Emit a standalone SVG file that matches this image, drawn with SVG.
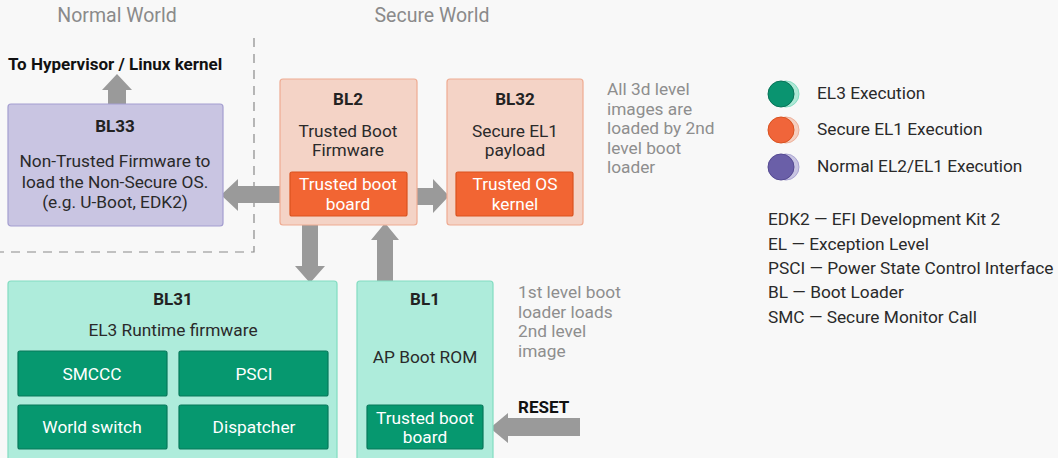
<svg xmlns="http://www.w3.org/2000/svg" width="1058" height="458" viewBox="0 0 1058 458">
  <style>
    text { font-family: Roboto, "Liberation Sans", sans-serif; }
    .world { font-size: 19.5px; fill: #8a8a8a; text-anchor: middle; }
    .note { font-size: 17.3px; fill: #8e8e8e; }
    .title { font-size: 17px; font-weight: bold; fill: #222; text-anchor: middle; }
    .body { font-size: 17.3px; fill: #2a2a2a; text-anchor: middle; }
    .inner { font-size: 17.3px; fill: #ffffff; text-anchor: middle; }
    .legend { font-size: 17.3px; fill: #2a2a2a; }
    .normal { fill: #c9c5e2; stroke: #a49ed0; stroke-width: 1.2; }
    .secure { fill: #f4d3c6; stroke: #eeab92; stroke-width: 1.2; }
    .el3 { fill: #aeecdb; stroke: #82dcc1; stroke-width: 1.2; }
    .orange { fill: #f26533; stroke: #d9521f; stroke-width: 1.2; }
    .green { fill: #06986f; stroke: #06785a; stroke-width: 1.2; }
    .arrow { fill: #9a9a9a; }
  </style>

  <rect width="1058" height="458" fill="#f8f8f8"/>

  <!-- world labels and boundary -->
  <text class="world" x="117" y="22">Normal World</text>
  <text class="world" x="432" y="22">Secure World</text>
  <path d="M254 38 V252 H0" fill="none" stroke="#8a8a8a" stroke-width="1.2" stroke-dasharray="9 7"/>

  <text x="8" y="70" font-size="17" font-weight="bold" fill="#111">To Hypervisor / Linux kernel</text>

  <!-- connectors -->
  <g id="connectors">
    <polygon class="arrow" points="108,104 108,90 102,90 117,74 132,90 126,90 126,104"/>
    <polygon class="arrow" points="280,186 238,186 238,179 221,195 238,211 238,203 280,203"/>
    <polygon class="arrow" points="417,188 433,188 433,179 449,196 433,213 433,205 417,205"/>
    <polygon class="arrow" points="302,225 318,225 318,266 325,266 310,283 295,266 302,266"/>
    <polygon class="arrow" points="377,281 393,281 393,240 399,240 385,223 371,240 377,240"/>
    <polygon class="arrow" points="580,418 508,418 508,413 490,428 508,443 508,436 580,436"/>
  </g>

  <!-- BL33 -->
  <g id="bl33">
    <rect class="normal" x="8" y="104" width="215" height="122" rx="3"/>
    <text class="title" x="115" y="132">BL33</text>
    <text class="body" x="115" y="167">Non-Trusted Firmware to</text>
    <text class="body" x="115" y="188">load the Non-Secure OS.</text>
    <text class="body" x="115" y="208">(e.g. U-Boot, EDK2)</text>
  </g>

  <!-- BL2 -->
  <g id="bl2">
    <rect class="secure" x="280" y="79" width="137" height="146" rx="3"/>
    <text class="title" x="348" y="105">BL2</text>
    <text class="body" x="348" y="137">Trusted Boot</text>
    <text class="body" x="348" y="156">Firmware</text>
    <rect class="orange" x="290" y="172" width="117" height="44" rx="2"/>
    <text class="inner" x="348" y="190">Trusted boot</text>
    <text class="inner" x="348" y="210">board</text>
  </g>

  <!-- BL32 -->
  <g id="bl32">
    <rect class="secure" x="447" y="79" width="136" height="146" rx="3"/>
    <text class="title" x="515" y="105">BL32</text>
    <text class="body" x="515" y="137">Secure EL1</text>
    <text class="body" x="515" y="156">payload</text>
    <rect class="orange" x="456" y="172" width="117" height="44" rx="2"/>
    <text class="inner" x="515" y="190">Trusted OS</text>
    <text class="inner" x="515" y="210">kernel</text>
  </g>

  <text class="note" x="607" y="95">All 3d level</text>
  <text class="note" x="607" y="114.5">images are</text>
  <text class="note" x="607" y="134">loaded by 2nd</text>
  <text class="note" x="607" y="153.5">level boot</text>
  <text class="note" x="607" y="173">loader</text>

  <!-- BL31 -->
  <g id="bl31">
    <rect class="el3" x="8" y="281" width="329" height="190" rx="3"/>
    <text class="title" x="173" y="305">BL31</text>
    <text class="body" x="173" y="336">EL3 Runtime firmware</text>
    <rect class="green" x="18" y="351" width="149" height="45" rx="2"/>
    <text class="inner" x="92" y="380">SMCCC</text>
    <rect class="green" x="179" y="351" width="149" height="45" rx="2"/>
    <text class="inner" x="254" y="380">PSCI</text>
    <rect class="green" x="18" y="405" width="149" height="44" rx="2"/>
    <text class="inner" x="92" y="433">World switch</text>
    <rect class="green" x="179" y="405" width="149" height="44" rx="2"/>
    <text class="inner" x="254" y="433">Dispatcher</text>
  </g>

  <!-- BL1 -->
  <g id="bl1">
    <rect class="el3" x="357" y="281" width="136" height="190" rx="3"/>
    <text class="title" x="425" y="305">BL1</text>
    <text class="body" x="425" y="363">AP Boot ROM</text>
    <rect class="green" x="367" y="405" width="116" height="44" rx="2"/>
    <text class="inner" x="425" y="424">Trusted boot</text>
    <text class="inner" x="425" y="443">board</text>
  </g>

  <text class="note" x="518" y="298">1st level boot</text>
  <text class="note" x="518" y="317.5">loader loads</text>
  <text class="note" x="518" y="337">2nd level</text>
  <text class="note" x="518" y="356.5">image</text>

  <text x="518" y="413" font-size="17" font-weight="bold" fill="#111">RESET</text>

  <!-- legend -->
  <g id="legend">
    <circle cx="786" cy="94" r="13" fill="#aee8d6" stroke="#86dcc2" stroke-width="1"/>
    <circle cx="781" cy="94" r="13" fill="#0a9470" stroke="#077257" stroke-width="1"/>
    <text class="legend" x="817" y="99">EL3 Execution</text>
    <circle cx="786" cy="130" r="13" fill="#f5cfc0" stroke="#eeb09a" stroke-width="1"/>
    <circle cx="781" cy="130" r="13" fill="#f0653a" stroke="#d9521f" stroke-width="1"/>
    <text class="legend" x="817" y="135">Secure EL1 Execution</text>
    <circle cx="786" cy="167" r="13" fill="#c9c5e2" stroke="#aaa4d2" stroke-width="1"/>
    <circle cx="781" cy="167" r="13" fill="#6a5fa8" stroke="#554a92" stroke-width="1"/>
    <text class="legend" x="817" y="172">Normal EL2/EL1 Execution</text>
  </g>

  <g id="abbreviations">
    <text class="legend" x="768" y="225">EDK2 — EFI Development Kit 2</text>
    <text class="legend" x="768" y="250">EL — Exception Level</text>
    <text class="legend" x="768" y="274">PSCI — Power State Control Interface</text>
    <text class="legend" x="768" y="298">BL — Boot Loader</text>
    <text class="legend" x="768" y="323">SMC — Secure Monitor Call</text>
  </g>
</svg>
